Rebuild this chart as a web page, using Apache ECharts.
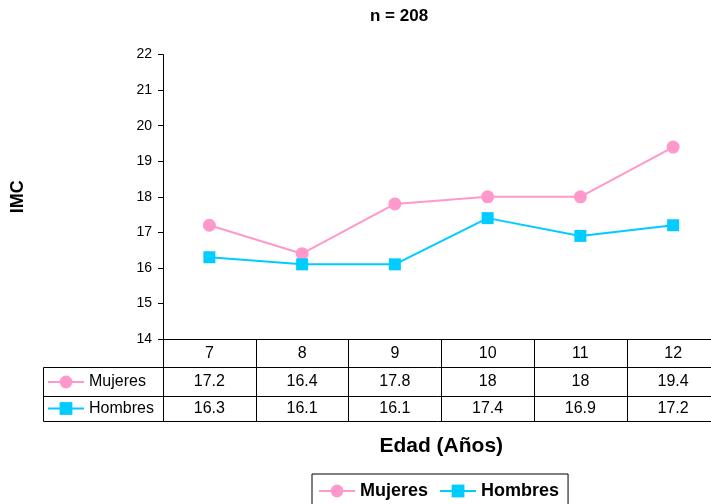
<!DOCTYPE html>
<html>
<head>
<meta charset="utf-8">
<script src="https://cdn.jsdelivr.net/npm/echarts@6/dist/echarts.min.js"></script>
<style>
  html, body { margin: 0; padding: 0; background: #fff; overflow: hidden; }
  #chart { width: 711px; height: 504px; }
</style>
</head>
<body>
<div id="chart"></div>
<script>
  // data
  const edades = ['7', '8', '9', '10', '11', '12']
  const mujeres = [17.2, 16.4, 17.8, 18, 18, 19.4]
  const hombres = [16.3, 16.1, 16.1, 17.4, 16.9, 17.2]
  const yMin = 14
  const yMax = 22
  const yStep = 1

  const font = '"Liberation Sans", Arial, sans-serif'
  const pink = '#FF99CC'
  const cyan = '#00CCFF'

  // table rows under the plot (offsets from the x axis line)
  const axisY = 339
  const rowOff = [0, 28, 57, 82]
  const tableLeft = 43
  const plotLeft = 163

  const tableAxis = (i, values, extra) => Object.assign({
    type: 'category',
    data: edades,
    position: 'bottom',
    offset: rowOff[i],
    boundaryGap: true,
    axisLine: { show: true, lineStyle: { color: '#000', width: 1 } },
    axisTick: {
      show: i < 3,
      interval: 0,
      length: i < 3 ? rowOff[i + 1] - rowOff[i] : 0,
      lineStyle: { color: '#000', width: 1 }
    },
    axisLabel: {
      show: !!values,
      interval: 0,
      margin: i === 2 ? 5 : 7,
      color: '#000',
      fontSize: 16,
      fontFamily: font,
      formatter: (v, idx) => String(values ? values[idx] : '')
    },
    splitLine: { show: false }
  }, extra)

  const chart = echarts.init(document.getElementById('chart'))

  const option = {
    animation: false,
    backgroundColor: '#fff',
    title: {
      text: 'n = 208',
      left: 370,
      top: 8,
      padding: 0,
      textStyle: { fontFamily: font, fontSize: 17, fontWeight: 'bold', color: '#000' }
    },
    legend: [
      {
        data: ['Mujeres', 'Hombres'],
        left: 312,
        top: 474,
        padding: [8, 9, 8, 6],
        itemWidth: 36,
        itemHeight: 16,
        itemGap: 11,
        borderColor: '#000',
        borderWidth: 1,
        borderRadius: 0,
        lineStyle: { width: 2 },
        textStyle: { fontFamily: font, fontSize: 18, fontWeight: 'bold', color: '#000' }
      },
      {
        data: ['Mujeres', 'Hombres'],
        orient: 'vertical',
        left: 47,
        top: 374,
        padding: 0,
        itemWidth: 36,
        itemHeight: 16,
        itemGap: 10.5,
        selectedMode: false,
        lineStyle: { width: 2 },
        textStyle: { fontFamily: font, fontSize: 16, color: '#000' }
      }
    ],
    grid: {
      left: plotLeft,
      right: -8.5,
      top: 54.6,
      bottom: 504 - axisY,
      containLabel: false,
      outerBoundsMode: 'none'
    },
    xAxis: [
      tableAxis(0, edades, {
        name: 'Edad (Años)',
        nameLocation: 'middle',
        nameGap: 97,
        nameTextStyle: { fontFamily: font, fontSize: 21, fontWeight: 'bold', color: '#000' }
      }),
      tableAxis(1, mujeres),
      tableAxis(2, hombres),
      tableAxis(3, null)
    ],
    yAxis: {
      type: 'value',
      min: yMin,
      max: yMax,
      interval: yStep,
      name: 'IMC',
      nameLocation: 'middle',
      nameGap: 136,
      nameTextStyle: { fontFamily: font, fontSize: 18, fontWeight: 'bold', color: '#000' },
      axisLine: { show: true, lineStyle: { color: '#000', width: 1 } },
      axisTick: { show: true, length: 5, lineStyle: { color: '#000' } },
      axisLabel: { margin: 11, color: '#000', fontSize: 14, fontFamily: font },
      splitLine: { show: false }
    },
    series: [
      {
        name: 'Mujeres',
        type: 'line',
        data: mujeres,
        symbol: 'circle',
        symbolSize: 13,
        color: pink,
        itemStyle: { color: pink },
        lineStyle: { color: pink, width: 2 }
      },
      {
        name: 'Hombres',
        type: 'line',
        data: hombres,
        symbol: 'rect',
        symbolSize: 12,
        color: cyan,
        itemStyle: { color: cyan },
        lineStyle: { color: cyan, width: 2 }
      }
    ],
    graphic: [
      {
        type: 'rect',
        shape: {
          x: tableLeft + 0.5,
          y: axisY + rowOff[1] + 0.5,
          width: plotLeft - tableLeft,
          height: rowOff[3] - rowOff[1]
        },
        style: { fill: null, stroke: '#000', lineWidth: 1 },
        silent: true
      },
      {
        type: 'line',
        shape: {
          x1: tableLeft, y1: axisY + rowOff[2] + 0.5,
          x2: plotLeft, y2: axisY + rowOff[2] + 0.5
        },
        style: { stroke: '#000', lineWidth: 1 },
        silent: true
      }
    ]
  }

  chart.setOption(option)
</script>
</body>
</html>
